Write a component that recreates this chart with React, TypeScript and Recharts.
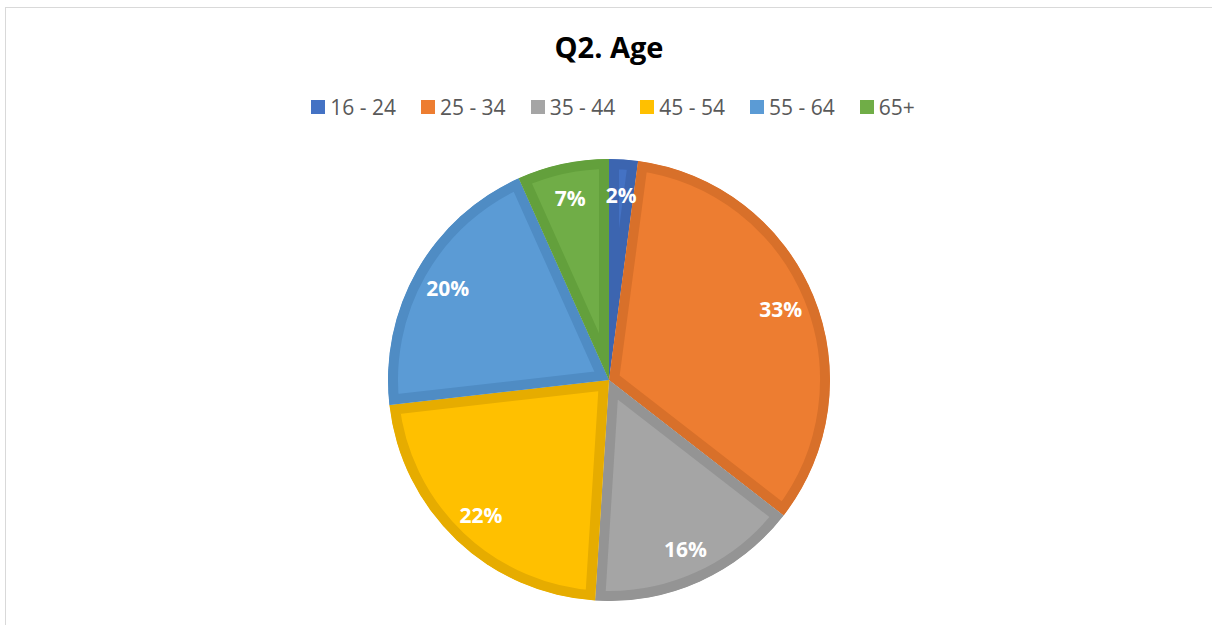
import React from 'react';
import { PieChart, Pie, Cell, Sector } from 'recharts';

const ageGroups = ['16 - 24', '25 - 34', '35 - 44', '45 - 54', '55 - 64', '65+'];
const shares = [2.1, 33.4, 15.5, 22.2, 20.1, 6.7];
const fills = ['#4472C4', '#ED7D31', '#A5A5A5', '#FFC000', '#5B9BD5', '#70AD47'];
const borders = ['#3C65B0', '#D8702A', '#949494', '#E6AC00', '#4F8CC4', '#63A03C'];

const data = ageGroups.map((name, i) => ({ name, value: shares[i] }));

const RADIAN = Math.PI / 180;
const FONT = '"Open Sans", "DejaVu Sans", sans-serif';

// each slice gets a border drawn inside its own outline (like Excel)
const InsetSector = (props: any) => {
  const idx = props.index ?? 0;
  const clipId = `slice-clip-${idx}`;
  return (
    <g>
      <defs>
        <clipPath id={clipId}>
          <Sector {...props} stroke="none" />
        </clipPath>
      </defs>
      <Sector
        {...props}
        fill={fills[idx]}
        stroke={borders[idx]}
        strokeWidth={20}
        clipPath={`url(#${clipId})`}
      />
    </g>
  );
};

const renderLabel = (props: any) => {
  const { cx, cy, midAngle, outerRadius, value } = props;
  const r = outerRadius * 0.84;
  const x = cx + r * Math.cos(-midAngle * RADIAN);
  const y = cy + r * Math.sin(-midAngle * RADIAN);
  return (
    <text
      x={x}
      y={y}
      fill="#ffffff"
      textAnchor="middle"
      dominantBaseline="central"
      fontFamily={FONT}
      fontWeight="bold"
      fontSize={21}
    >
      {`${Math.round(value)}%`}
    </text>
  );
};

const LegendRow = () => (
  <div style={{ display: 'flex', justifyContent: 'center', gap: 25, fontFamily: FONT, fontSize: 21, color: '#595959' }}>
    {ageGroups.map((g, i) => (
      <div key={g} style={{ display: 'flex', alignItems: 'center' }}>
        <span style={{ width: 14, height: 14, background: fills[i], marginRight: 5, display: 'inline-block' }} />
        <span>{g}</span>
      </div>
    ))}
  </div>
);

export default function App() {
  return (
    <div style={{ position: 'absolute', left: 0, top: 0, width: 1212, height: 625, background: '#fff', overflow: 'hidden' }}>
      <div style={{ position: 'absolute', left: 5, top: 7, width: 1220, height: 640, border: '1px solid #d9d9d9', boxSizing: 'border-box' }} />
      <div style={{ position: 'absolute', left: 0, top: 0 }}>
        <PieChart width={1212} height={625} margin={{ top: 0, right: 0, bottom: 0, left: 0 }}>
          <Pie
            data={data}
            dataKey="value"
            nameKey="name"
            cx={609}
            cy={380}
            outerRadius={221}
            startAngle={90}
            endAngle={-270}
            stroke="none"
            shape={InsetSector}
            label={renderLabel}
            labelLine={false}
            isAnimationActive={false}
          >
            {data.map((d, i) => (
              <Cell key={d.name} fill={fills[i]} />
            ))}
          </Pie>
        </PieChart>
      </div>
      <div style={{ position: 'absolute', left: 0, top: 27, width: 1218, textAlign: 'center', fontFamily: FONT, fontWeight: 'bold', fontSize: 29, color: '#000' }}>
        Q2. Age
      </div>
      <div style={{ position: 'absolute', left: 0, top: 93, width: 1226 }}>
        <LegendRow />
      </div>
    </div>
  );
}
